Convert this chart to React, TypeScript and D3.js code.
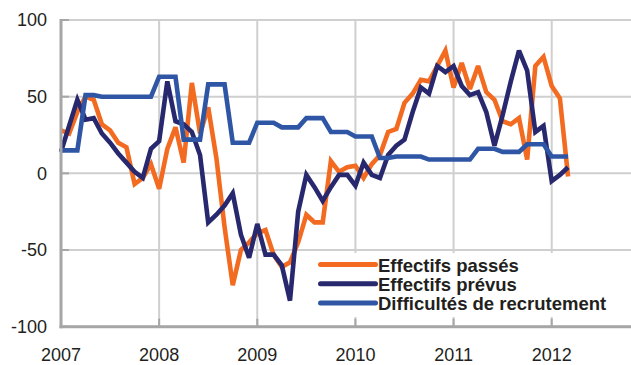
import React from "react";
import * as d3 from "d3";

const years = [2007, 2008, 2009, 2010, 2011, 2012];
const yTicks = [-100, -50, 0, 50, 100];
const seriesNames = ["Effectifs passés", "Effectifs prévus", "Difficultés de recrutement"];
const seriesColors = ["#F26B21", "#28286E", "#2E56A5"];

// Monthly values, Jan 2007 .. Mar 2012
const effectifsPasses = [
  28, 26, 40, 50, 48, 32, 28, 20, 17, -7, -3, 6,
  -10, 16, 30, 7, 59, 26, 43, 10, -35, -73, -50, -45,
  -39, -37, -53, -61, -58, -45, -27, -32, -32, 8, 1, 4,
  5, -3, 6, 12, 27, 29, 46, 52, 61, 60, 70, 80,
  56, 72, 55, 70, 53, 48, 34, 32, 36, 9, 70, 76,
  57, 49, -2,
];
const effectifsPrevus = [
  14, 31, 48, 35, 36, 26, 20, 13, 7, 1, -3, 16,
  21, 60, 34, 32, 27, 12, -32, -27, -21, -13, -40, -55,
  -33, -53, -53, -60, -83, -25, -1, -9, -18, -9, -1, -1,
  -8, 7, -1, -3, 12, 18, 22, 40, 56, 52, 70, 66,
  70, 57, 51, 53, 40, 18, 38, 60, 80, 67, 27, 31,
  -5, -1, 4,
];
const difficultes = [
  15, 15, 15, 51, 51, 50, 50, 50, 50, 50, 50, 50,
  63, 63, 63, 22, 22, 22, 58, 58, 58, 20, 20, 20,
  33, 33, 33, 30, 30, 30, 36, 36, 36, 27, 27, 27,
  24, 24, 24, 10, 10, 11, 11, 11, 11, 9, 9, 9,
  9, 9, 9, 16, 16, 16, 14, 14, 14, 19, 19, 19,
  11, 11, 11,
];

const W = 631;
const H = 365;
const left = 61;
const yearPx = (551.7 - 61) / 5;
const x = d3.scaleLinear().domain([2007, 2013]).range([left, left + 6 * yearPx]);
const y = d3.scaleLinear().domain([-100, 100]).range([326.7, 20]);

const allSeries = [effectifsPasses, effectifsPrevus, difficultes];

export default function App() {
  const line = d3
    .line<number>()
    .x((_, i) => x(2007 + i / 12))
    .y((d) => y(d));
  const font = "'Liberation Sans', Arial, Helvetica, sans-serif";
  const textColor = "#231F20";
  const gridColor = "#CFCFCF";
  const axisColor = "#A6A6A6";
  const bottom = y(-100);
  const top = y(100);
  return (
    <svg
      width={W}
      height={H}
      style={{ position: "absolute", left: 0, top: 0, background: "#fff" }}
      fontFamily={font}
    >
      {/* horizontal grid */}
      {yTicks.map((t) => (
        <line key={"h" + t} x1={left} x2={W} y1={y(t)} y2={y(t)} stroke={gridColor} strokeWidth={2} />
      ))}
      {/* vertical grid */}
      {years.slice(1).map((yr) => (
        <line key={"v" + yr} x1={x(yr)} x2={x(yr)} y1={top} y2={bottom} stroke={gridColor} strokeWidth={2} />
      ))}
      {/* series */}
      {allSeries.map((s, i) => (
        <path
          key={"s" + i}
          d={line(s) || ""}
          fill="none"
          stroke={seriesColors[i]}
          strokeWidth={4.6}
          strokeLinejoin="miter"
          strokeMiterlimit={3}
        />
      ))}
      {/* legend box */}
      <rect x={316} y={253} width={300} height={64} fill="#fff" />
      {seriesNames.map((n, i) => {
        const ly = 264.5 + i * 19.2;
        return (
          <g key={"l" + i}>
            <line x1={320.5} x2={375.5} y1={ly} y2={ly} stroke={seriesColors[i]} strokeWidth={5} strokeLinecap="round" />
            <text x={378} y={ly + 7.5} fontSize={18.5} fontWeight="bold" fill={textColor}>
              {n}
            </text>
          </g>
        );
      })}
      {/* axes */}
      <line x1={left} x2={left} y1={top - 1} y2={bottom + 1.5} stroke={axisColor} strokeWidth={3} />
      <line x1={left - 1.5} x2={W} y1={bottom} y2={bottom} stroke={axisColor} strokeWidth={3} />
      {yTicks.map((t) => (
        <line key={"yt" + t} x1={left} x2={left + 8} y1={y(t)} y2={y(t)} stroke={axisColor} strokeWidth={2} />
      ))}
      {years.slice(1).map((yr) => (
        <line key={"xt" + yr} x1={x(yr)} x2={x(yr)} y1={bottom - 8} y2={bottom} stroke={axisColor} strokeWidth={2} />
      ))}
      {/* labels */}
      {yTicks.map((t) => (
        <text key={"yl" + t} x={47} y={y(t)} dy="0.35em" textAnchor="end" fontSize={18} fill={textColor}>
          {t}
        </text>
      ))}
      {years.map((yr) => (
        <text key={"xl" + yr} x={x(yr)} y={361} textAnchor="middle" fontSize={18} fill={textColor}>
          {yr}
        </text>
      ))}
    </svg>
  );
}
